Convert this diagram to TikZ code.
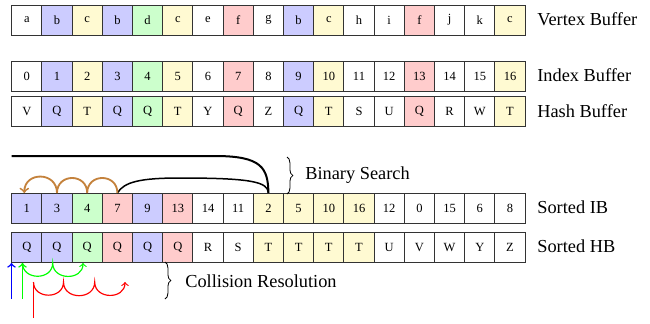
\documentclass[tikz,border=0pt]{standalone}
\usepackage{fontspec}
\setmainfont{Liberation Serif}
\usetikzlibrary{decorations.pathreplacing}
\definecolor{cb}{RGB}{204,204,255}
\definecolor{cy}{RGB}{255,250,210}
\definecolor{cg}{RGB}{204,255,204}
\definecolor{cr}{RGB}{255,204,204}
\definecolor{cw}{RGB}{255,255,255}
\definecolor{brownarc}{RGB}{196,130,60}
\definecolor{arrred}{RGB}{255,0,0}
\definecolor{arrgreen}{RGB}{0,255,0}
\definecolor{arrblue}{RGB}{0,0,255}
\tikzset{
  cell/.style={draw=black!80, line width=0.6pt, minimum width=18.12pt, minimum height=18pt,
    inner sep=0pt, anchor=center, font=\fontsize{7.5}{9}\selectfont},
  rowlabel/.style={anchor=west, inner sep=0pt, font=\fontsize{11}{13}\selectfont},
  bracelabel/.style={anchor=west, inner sep=0pt, font=\fontsize{11}{13}\selectfont},
  bigbrace/.style={decorate, decoration={brace, amplitude=3.5pt}, line width=0.5pt},
  hop/.style={->, line width=0.7pt},
  stem/.style={line width=0.9pt},
}
\begin{document}
\begin{tikzpicture}[x=0.6pt, y=-0.6pt]
\useasboundingbox (0,0) rectangle (650,323);
% Vertex buffer
\foreach \t/\c [count=\i from 0] in {a/cw,b/cb,c/cy,b/cb,d/cg,c/cy,e/cw,f/cr,g/cw,b/cb,c/cy,h/cw,i/cw,f/cr,j/cw,k/cw,c/cy}
  \node[cell, fill=\c] (v\i) at ({11.7+30.2*(\i+0.5)}, 20) {\t};
% Index buffer
\foreach \t/\c [count=\i from 0] in {0/cw,1/cb,2/cy,3/cb,4/cg,5/cy,6/cw,7/cr,8/cw,9/cb,10/cy,11/cw,12/cw,13/cr,14/cw,15/cw,16/cy}
  \node[cell, fill=\c] (i\i) at ({11.7+30.2*(\i+0.5)}, 76) {\t};
% Hash buffer
\foreach \t/\c [count=\i from 0] in {V/cw,Q/cb,T/cy,Q/cb,Q/cg,T/cy,Y/cw,Q/cr,Z/cw,Q/cb,T/cy,S/cw,U/cw,Q/cr,R/cw,W/cw,T/cy}
  \node[cell, fill=\c] (h\i) at ({11.7+30.2*(\i+0.5)}, 111.5) {\t};
% Sorted IB
\foreach \t/\c [count=\i from 0] in {1/cb,3/cb,4/cg,7/cr,9/cb,13/cr,14/cw,11/cw,2/cy,5/cy,10/cy,16/cy,12/cw,0/cw,15/cw,6/cw,8/cw}
  \node[cell, fill=\c] (s\i) at ({11.7+30.2*(\i+0.5)}, 208.5) {\t};
% Sorted HB
\foreach \t/\c [count=\i from 0] in {Q/cb,Q/cb,Q/cg,Q/cr,Q/cb,Q/cr,R/cw,S/cw,T/cy,T/cy,T/cy,T/cy,U/cw,V/cw,W/cw,Y/cw,Z/cw}
  \node[cell, fill=\c] (t\i) at ({11.7+30.2*(\i+0.5)}, 247) {\t};
% Row labels
\node[rowlabel] (lv) at (537,19) {Vertex Buffer};
\node[rowlabel] (li) at (537,75) {Index Buffer};
\node[rowlabel] (lh) at (537,111.5) {Hash Buffer};
\node[rowlabel] (ls) at (537,207.5) {Sorted IB};
\node[rowlabel] (lt) at (537,246) {Sorted HB};
% Binary search
\coordinate (bsstart) at (11.7,156);
\coordinate (bsbend) at (215,156);
\draw[line width=1.2pt] (bsstart) -- (bsbend) .. controls (262,156) and (268,168) .. (s8.north);
\draw[line width=0.9pt] (s3.north) .. controls (124,182) and (140,178) .. (180,178)
   .. controls (252,178) and (268,182) .. (s8.north);
\draw[brownarc, line width=1.1pt, ->] (s3.north) to[out=90,in=90,looseness=1.7] (s2.north)
   to[out=90,in=90,looseness=1.7] (s1.north) to[out=90,in=90,looseness=1.7] ([xshift=-1.5pt]s0.north);
\coordinate (bbtop) at (287,157);
\coordinate (bbbot) at (287,194);
\draw[bigbrace] (bbtop) -- (bbbot);
\node[bracelabel] (bslabel) at (305,175) {Binary Search};
% Collision resolution
\coordinate (bl0) at (11.5,299);
\coordinate (bl1) at (11.5,263);
\draw[arrblue, hop, stem] (bl0) -- (bl1);
\coordinate (g0) at (22.5,299);
\coordinate (g1) at (22.5,263);
\coordinate (g2) at (52.7,263);
\coordinate (g3) at (83,263);
\draw[arrgreen, hop, stem] (g0) -- (g1);
\draw[arrgreen, hop] (g1) to[out=-90,in=-90,looseness=1.5] (g2) to[out=-90,in=-90,looseness=1.5] (g3);
\coordinate (r0) at (33.5,318);
\coordinate (r1) at (33.5,282);
\coordinate (r2) at (63.5,282);
\coordinate (r3) at (94.7,282);
\coordinate (r4) at (125,282);
\draw[arrred, stem] (r0) -- (r1);
\draw[arrred, hop] (r1) to[out=-90,in=-90,looseness=1.5] (r2) to[out=-90,in=-90,looseness=1.5] (r3)
   to[out=-90,in=-90,looseness=1.5] (r4);
\coordinate (cbtop) at (165,262);
\coordinate (cbbot) at (165,299);
\draw[bigbrace] (cbtop) -- (cbbot);
\node[bracelabel] (crlabel) at (185,281) {Collision Resolution};
\end{tikzpicture}
\end{document}
